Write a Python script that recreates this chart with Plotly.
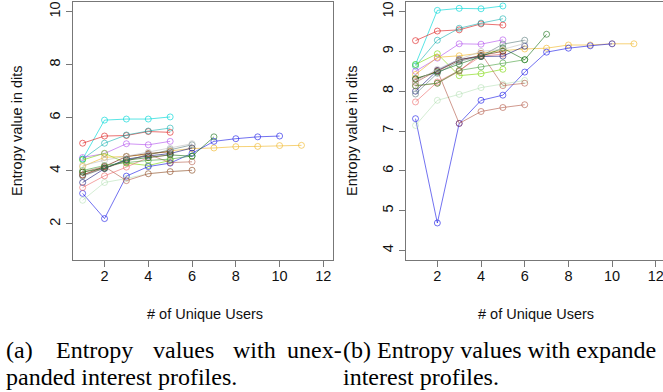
import plotly.graph_objects as go

# ---- data (x = # of unique users, y = entropy in dits) ----
series_colors = [
    "rgba(0,215,215,0.65)",    # cyan
    "rgba(220,20,20,0.6)",     # red
    "rgba(0,170,170,0.55)",    # turquoise
    "rgba(170,60,235,0.55)",   # purple
    "rgba(120,215,0,0.6)",     # yellowgreen
    "rgba(240,180,30,0.6)",    # orange
    "rgba(20,20,230,0.6)",     # blue
    "rgba(160,215,160,0.45)",  # pale green
    "rgba(170,70,50,0.55)",    # rosy brown
    "rgba(235,90,90,0.55)",    # salmon
    "rgba(20,20,120,0.6)",     # navy
    "rgba(110,40,10,0.65)",    # dark brown
    "rgba(175,80,60,0.55)",    # sienna
    "rgba(70,160,60,0.6)",     # green
    "rgba(20,110,20,0.6)",     # dark green
    "rgba(60,100,100,0.5)",    # slate gray
    "rgba(190,190,190,0.6)",   # light gray
]

left_values = [
    [4.44, 5.91, 5.95, 5.95, 6.03],
    [5.04, 5.31, 5.33, 5.48, 5.45],
    [4.44, 5.04, 5.35, 5.50, 5.61],
    [4.50, 4.65, 5.02, 4.98, 5.11],
    [4.41, 4.66, 4.29, 4.20, 4.39],
    [4.16, 4.51, 4.54, 4.62, 4.75, 4.84, 4.86, 4.91, 4.92, 4.95, 4.96],
    [3.15, 2.20, 3.80, 4.16, 4.29, 4.66, 5.11, 5.21, 5.28, 5.31],
    [2.89, 3.56, 3.71, 3.89, 3.97, 4.02],
    [3.95, 4.16, 3.63, 3.89, 3.97, 4.02],
    [3.37, 3.81, 4.14, 4.50, 4.60],
    [3.56, 4.08, 4.44, 4.56, 4.65, 4.86],
    [3.84, 4.16, 4.54, 4.65, 4.72],
    [3.84, 4.10, 4.35, 4.62, 4.31, 4.34],
    [4.01, 4.20, 4.31, 4.39, 4.44, 4.56],
    [3.95, 4.10, 4.40, 4.50, 4.60, 4.55, 5.28],
    [3.80, 4.10, 4.40, 4.60, 4.80, 4.98],
    [4.20, 4.40, 4.55, 4.70, 4.85, 5.02],
]

right_values = [
    [8.67, 10.03, 10.08, 10.07, 10.14],
    [9.27, 9.51, 9.54, 9.69, 9.66],
    [8.63, 9.28, 9.58, 9.71, 9.82],
    [8.50, 8.83, 9.19, 9.18, 9.29],
    [8.67, 8.94, 8.39, 8.44, 8.55],
    [8.42, 8.85, 8.89, 8.95, 9.02, 9.06, 9.08, 9.16, 9.16, 9.19, 9.19],
    [7.31, 4.69, 7.19, 7.77, 7.90, 8.48, 8.98, 9.08, 9.14, 9.19],
    [7.14, 7.77, 7.92, 8.09, 8.18, 8.27],
    [8.22, 8.52, 7.19, 7.49, 7.59, 7.66],
    [7.73, 8.23, 8.52, 8.88, 8.93],
    [8.00, 8.52, 8.80, 8.87, 8.88, 9.13],
    [8.30, 8.50, 8.78, 8.90, 9.00],
    [8.13, 8.20, 8.50, 8.95, 8.14, 8.20],
    [8.14, 8.20, 8.52, 8.61, 8.71, 8.79],
    [8.32, 8.48, 8.68, 8.87, 9.08, 8.79, 9.43],
    [7.93, 8.45, 8.75, 8.88, 9.18, 9.28],
    [8.25, 8.55, 8.80, 9.00, 9.05, 9.20],
]

x_ticks = [2, 4, 6, 8, 10, 12]
left_y_ticks = [2, 4, 6, 8, 10]
right_y_ticks = [4, 5, 6, 7, 8, 9, 10]

W, H = 663, 392
fig = go.Figure()

for vals_set, xa, ya in [(left_values, "x", "y"), (right_values, "x2", "y2")]:
    for col, vals in zip(series_colors, vals_set):
        fig.add_trace(go.Scatter(
            x=list(range(1, len(vals) + 1)), y=vals, xaxis=xa, yaxis=ya,
            mode="lines+markers",
            line=dict(color=col, width=1),
            marker=dict(symbol="circle-open", size=6, color=col, line=dict(width=1, color=col)),
            showlegend=False, hoverinfo="skip"))

axis_font = dict(family="Liberation Sans, Arial, sans-serif", size=14.5, color="#111")
ydom = [(H - 260) / H, (H - 2) / H]
common = dict(showgrid=False, zeroline=False, showline=True, linecolor="#777", linewidth=1,
              ticks="outside", ticklen=6, tickcolor="#777", tickfont=axis_font)

fig.update_layout(
    width=W, height=H, margin=dict(l=0, r=0, t=0, b=0),
    plot_bgcolor="white", paper_bgcolor="white",
    xaxis=dict(domain=[73 / W, 333 / W], range=[0.56, 12.44], tickvals=x_ticks,
               anchor="y", mirror=True, ticklabelstandoff=-3, **common),
    yaxis=dict(domain=ydom, range=[0.64, 10.36], tickvals=left_y_ticks, tickangle=-90,
               anchor="x", mirror=True, **common),
    xaxis2=dict(domain=[406 / W, 1.0], range=[0.565, 12.33], tickvals=x_ticks,
                anchor="y2", mirror=True, ticklabelstandoff=-3, ticklabeloverflow="allow",
                **common),
    yaxis2=dict(domain=ydom, range=[3.76, 10.24], tickvals=right_y_ticks, tickangle=-90,
                anchor="x2", mirror=False, **common),
)

def px(xp):
    return xp / W

def py(yp):
    return 1 - yp / H

ann = []
title_font = dict(family="Liberation Sans, Arial, sans-serif", size=14.5, color="#111")
ann.append(dict(x=px(17), y=py(131), text="Entropy value in dits", textangle=-90,
                font=title_font, showarrow=False, xref="paper", yref="paper",
                xanchor="center", yanchor="middle"))
ann.append(dict(x=px(352), y=py(131), text="Entropy value in dits", textangle=-90,
                font=title_font, showarrow=False, xref="paper", yref="paper",
                xanchor="center", yanchor="middle"))
ann.append(dict(x=px(205), y=py(314), text="# of Unique Users", font=title_font,
                showarrow=False, xref="paper", yref="paper", xanchor="center", yanchor="middle"))
ann.append(dict(x=px(536), y=py(314), text="# of Unique Users", font=title_font,
                showarrow=False, xref="paper", yref="paper", xanchor="center", yanchor="middle"))

cap_font = dict(family="Liberation Serif, Times New Roman, serif", size=24, color="black")
line1_words = [("(a)", 4), ("Entropy", 54), ("values", 151), ("with", 231), ("unex-", 285)]
for w, xp in line1_words:
    ann.append(dict(x=px(xp), y=py(350), text=w, font=cap_font, showarrow=False,
                    xref="paper", yref="paper", xanchor="left", yanchor="middle"))
ann.append(dict(x=px(341), y=py(350), text="(b) Entropy values with expande", font=cap_font,
                showarrow=False, xref="paper", yref="paper", xanchor="left", yanchor="middle"))
ann.append(dict(x=px(4), y=py(377), text="panded interest profiles.", font=cap_font,
                showarrow=False, xref="paper", yref="paper", xanchor="left", yanchor="middle"))
ann.append(dict(x=px(341), y=py(377), text="interest profiles.", font=cap_font,
                showarrow=False, xref="paper", yref="paper", xanchor="left", yanchor="middle"))

fig.update_layout(annotations=ann)
fig.write_html("out.html")
